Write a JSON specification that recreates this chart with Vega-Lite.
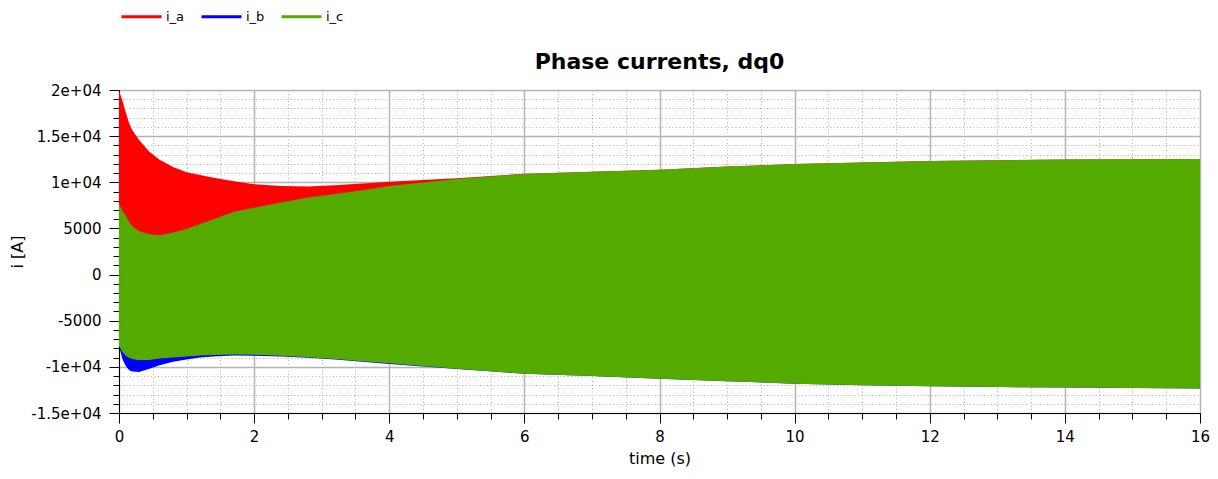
{
  "$schema": "https://vega.github.io/schema/vega-lite/v6.json",
  "autosize": "none",
  "width": 1081,
  "height": 323,
  "padding": {"left": 119, "top": 90, "right": 18, "bottom": 66},
  "background": "white",
  "title": {"text": "Phase currents, dq0", "font": "DejaVu Sans", "fontSize": 22, "fontWeight": "bold", "color": "#000000", "anchor": "middle", "offset": 16, "dy": 95},
  "config": {
    "view": {"stroke": null},
    "axis": {"labelFont": "DejaVu Sans", "titleFont": "DejaVu Sans", "labelColor": "#000000", "titleColor": "#000000", "labelFontSize": 15, "titleFontSize": 16, "titleFontWeight": "normal", "tickColor": "#000000", "domainColor": "#000000"}
  },
  "data": {"values": [
    {"t": 0, "series": "i_a", "lo": -7600, "hi": 19900},
    {"t": 0.05, "series": "i_a", "lo": -8300, "hi": 18900},
    {"t": 0.1, "series": "i_a", "lo": -8700, "hi": 17600},
    {"t": 0.15, "series": "i_a", "lo": -8900, "hi": 16400},
    {"t": 0.2, "series": "i_a", "lo": -9050, "hi": 15600},
    {"t": 0.3, "series": "i_a", "lo": -9180, "hi": 14550},
    {"t": 0.45, "series": "i_a", "lo": -9150, "hi": 13310},
    {"t": 0.6, "series": "i_a", "lo": -9000, "hi": 12450},
    {"t": 0.8, "series": "i_a", "lo": -8880, "hi": 11650},
    {"t": 1.0, "series": "i_a", "lo": -8770, "hi": 11100},
    {"t": 1.2, "series": "i_a", "lo": -8680, "hi": 10800},
    {"t": 1.4, "series": "i_a", "lo": -8620, "hi": 10500},
    {"t": 1.7, "series": "i_a", "lo": -8570, "hi": 10100},
    {"t": 2.0, "series": "i_a", "lo": -8600, "hi": 9800},
    {"t": 2.4, "series": "i_a", "lo": -8700, "hi": 9600},
    {"t": 2.8, "series": "i_a", "lo": -8850, "hi": 9550},
    {"t": 3.2, "series": "i_a", "lo": -9050, "hi": 9680},
    {"t": 3.6, "series": "i_a", "lo": -9280, "hi": 9880},
    {"t": 4.0, "series": "i_a", "lo": -9520, "hi": 10050},
    {"t": 5, "series": "i_a", "lo": -10100, "hi": 10450},
    {"t": 6, "series": "i_a", "lo": -10650, "hi": 10920},
    {"t": 7, "series": "i_a", "lo": -10900, "hi": 11150},
    {"t": 8, "series": "i_a", "lo": -11200, "hi": 11350},
    {"t": 9, "series": "i_a", "lo": -11450, "hi": 11700},
    {"t": 10, "series": "i_a", "lo": -11720, "hi": 11980},
    {"t": 11, "series": "i_a", "lo": -11880, "hi": 12150},
    {"t": 12, "series": "i_a", "lo": -12000, "hi": 12300},
    {"t": 13, "series": "i_a", "lo": -12080, "hi": 12400},
    {"t": 14, "series": "i_a", "lo": -12150, "hi": 12480},
    {"t": 15, "series": "i_a", "lo": -12200, "hi": 12500},
    {"t": 16, "series": "i_a", "lo": -12250, "hi": 12520},
    {"t": 0, "series": "i_b", "lo": -7700, "hi": 7600},
    {"t": 0.05, "series": "i_b", "lo": -9150, "hi": 6800},
    {"t": 0.1, "series": "i_b", "lo": -9900, "hi": 6300},
    {"t": 0.15, "series": "i_b", "lo": -10370, "hi": 5600},
    {"t": 0.2, "series": "i_b", "lo": -10500, "hi": 5100},
    {"t": 0.3, "series": "i_b", "lo": -10550, "hi": 4600},
    {"t": 0.45, "series": "i_b", "lo": -10200, "hi": 4280},
    {"t": 0.6, "series": "i_b", "lo": -9830, "hi": 4170},
    {"t": 0.8, "series": "i_b", "lo": -9450, "hi": 4450},
    {"t": 1.0, "series": "i_b", "lo": -9200, "hi": 4850},
    {"t": 1.2, "series": "i_b", "lo": -8990, "hi": 5370},
    {"t": 1.4, "series": "i_b", "lo": -8880, "hi": 5900},
    {"t": 1.7, "series": "i_b", "lo": -8780, "hi": 6700},
    {"t": 2.0, "series": "i_b", "lo": -8800, "hi": 7150},
    {"t": 2.4, "series": "i_b", "lo": -8880, "hi": 7700},
    {"t": 2.8, "series": "i_b", "lo": -9020, "hi": 8250},
    {"t": 3.2, "series": "i_b", "lo": -9210, "hi": 8620},
    {"t": 3.6, "series": "i_b", "lo": -9450, "hi": 9030},
    {"t": 4.0, "series": "i_b", "lo": -9700, "hi": 9490},
    {"t": 5, "series": "i_b", "lo": -10220, "hi": 10250},
    {"t": 6, "series": "i_b", "lo": -10760, "hi": 10800},
    {"t": 7, "series": "i_b", "lo": -11000, "hi": 11050},
    {"t": 8, "series": "i_b", "lo": -11300, "hi": 11250},
    {"t": 9, "series": "i_b", "lo": -11550, "hi": 11600},
    {"t": 10, "series": "i_b", "lo": -11820, "hi": 11880},
    {"t": 11, "series": "i_b", "lo": -11980, "hi": 12050},
    {"t": 12, "series": "i_b", "lo": -12100, "hi": 12200},
    {"t": 13, "series": "i_b", "lo": -12180, "hi": 12300},
    {"t": 14, "series": "i_b", "lo": -12250, "hi": 12380},
    {"t": 15, "series": "i_b", "lo": -12300, "hi": 12400},
    {"t": 16, "series": "i_b", "lo": -12350, "hi": 12420},
    {"t": 0, "series": "i_c", "lo": -7700, "hi": 7700},
    {"t": 0.05, "series": "i_c", "lo": -8400, "hi": 6900},
    {"t": 0.1, "series": "i_c", "lo": -8800, "hi": 6400},
    {"t": 0.15, "series": "i_c", "lo": -9000, "hi": 5700},
    {"t": 0.2, "series": "i_c", "lo": -9150, "hi": 5200},
    {"t": 0.3, "series": "i_c", "lo": -9280, "hi": 4700},
    {"t": 0.45, "series": "i_c", "lo": -9250, "hi": 4380},
    {"t": 0.6, "series": "i_c", "lo": -9100, "hi": 4270},
    {"t": 0.8, "series": "i_c", "lo": -8980, "hi": 4550},
    {"t": 1.0, "series": "i_c", "lo": -8870, "hi": 4950},
    {"t": 1.2, "series": "i_c", "lo": -8780, "hi": 5470},
    {"t": 1.4, "series": "i_c", "lo": -8720, "hi": 6000},
    {"t": 1.7, "series": "i_c", "lo": -8670, "hi": 6800},
    {"t": 2.0, "series": "i_c", "lo": -8700, "hi": 7250},
    {"t": 2.4, "series": "i_c", "lo": -8800, "hi": 7800},
    {"t": 2.8, "series": "i_c", "lo": -8950, "hi": 8350},
    {"t": 3.2, "series": "i_c", "lo": -9150, "hi": 8720},
    {"t": 3.6, "series": "i_c", "lo": -9380, "hi": 9130},
    {"t": 4.0, "series": "i_c", "lo": -9620, "hi": 9590},
    {"t": 5, "series": "i_c", "lo": -10200, "hi": 10350},
    {"t": 6, "series": "i_c", "lo": -10750, "hi": 10900},
    {"t": 7, "series": "i_c", "lo": -11000, "hi": 11150},
    {"t": 8, "series": "i_c", "lo": -11300, "hi": 11350},
    {"t": 9, "series": "i_c", "lo": -11550, "hi": 11700},
    {"t": 10, "series": "i_c", "lo": -11820, "hi": 11980},
    {"t": 11, "series": "i_c", "lo": -11980, "hi": 12150},
    {"t": 12, "series": "i_c", "lo": -12100, "hi": 12300},
    {"t": 13, "series": "i_c", "lo": -12180, "hi": 12400},
    {"t": 14, "series": "i_c", "lo": -12250, "hi": 12480},
    {"t": 15, "series": "i_c", "lo": -12300, "hi": 12500},
    {"t": 16, "series": "i_c", "lo": -12350, "hi": 12520}
  ]},
  "layer": [
    {
      "mark": {"type": "line", "strokeWidth": 1},
      "encoding": {
        "x": {"field": "t", "type": "quantitative", "scale": {"domain": [0, 16], "nice": false}, "axis": null},
        "y": {"datum": 0, "type": "quantitative", "scale": {"domain": [-15000, 20000], "nice": false, "zero": false}, "axis": null},
        "color": {"field": "series", "type": "nominal",
          "scale": {"domain": ["i_a", "i_b", "i_c"], "range": ["#ff0000", "#0000ff", "#55aa00"]},
          "legend": {"orient": "none", "legendX": 1, "legendY": -95, "direction": "horizontal", "title": null, "symbolType": "stroke", "symbolSize": 1600, "symbolStrokeWidth": 3, "labelFont": "DejaVu Sans", "labelFontSize": 13, "labelColor": "#000000", "labelOffset": 3, "columnPadding": 10}
        }
      }
    },
    {
      "mark": {"type": "area", "interpolate": "linear", "opacity": 1},
      "encoding": {
        "x": {"field": "t", "type": "quantitative", "scale": {"domain": [0, 16], "nice": false},
          "axis": {"orient": "bottom", "values": [0,0.5,1,1.5,2,2.5,3,3.5,4,4.5,5,5.5,6,6.5,7,7.5,8,8.5,9,9.5,10,10.5,11,11.5,12,12.5,13,13.5,14,14.5,15,15.5,16], "labels": false, "title": null, "domain": false, "tickSize": 6, "grid": true, "gridDash": [1, 2.5], "gridColor": "#b0b0b0", "gridWidth": 1}},
        "y": {"field": "hi", "type": "quantitative", "stack": null, "scale": {"domain": [-15000, 20000], "nice": false, "zero": false},
          "axis": {"orient": "left", "values": [-15000,-14000,-13000,-12000,-11000,-10000,-9000,-8000,-7000,-6000,-5000,-4000,-3000,-2000,-1000,0,1000,2000,3000,4000,5000,6000,7000,8000,9000,10000,11000,12000,13000,14000,15000,16000,17000,18000,19000,20000], "labels": false, "title": null, "domain": false, "tickSize": 6, "grid": true, "gridDash": [1, 2.5], "gridColor": "#b0b0b0", "gridWidth": 1}},
        "y2": {"field": "lo"},
        "color": {"field": "series", "type": "nominal", "legend": null}
      }
    },
    {
      "mark": {"type": "point", "opacity": 0},
      "encoding": {
        "x": {"field": "t", "type": "quantitative", "scale": {"domain": [0, 16], "nice": false},
          "axis": {"orient": "bottom", "values": [0,2,4,6,8,10,12,14,16], "title": "time (s)", "tickSize": 10, "labelPadding": 6, "titlePadding": 6, "grid": true, "gridColor": "#b4b4b4", "gridWidth": 1.5, "labelFlush": false}},
        "y": {"field": "hi", "type": "quantitative", "scale": {"domain": [-15000, 20000], "nice": false, "zero": false},
          "axis": {"orient": "left", "values": [-15000,-10000,-5000,0,5000,10000,15000,20000], "title": "i [A]", "tickSize": 10, "labelPadding": 8, "titlePadding": 5, "grid": true, "gridColor": "#b4b4b4", "gridWidth": 1.5,
            "labelExpr": "abs(datum.value) >= 10000 ? (datum.value / 10000) + 'e+04' : '' + datum.value"}}
      }
    }
  ],
  "resolve": {"axis": {"x": "independent", "y": "independent"}}
}
